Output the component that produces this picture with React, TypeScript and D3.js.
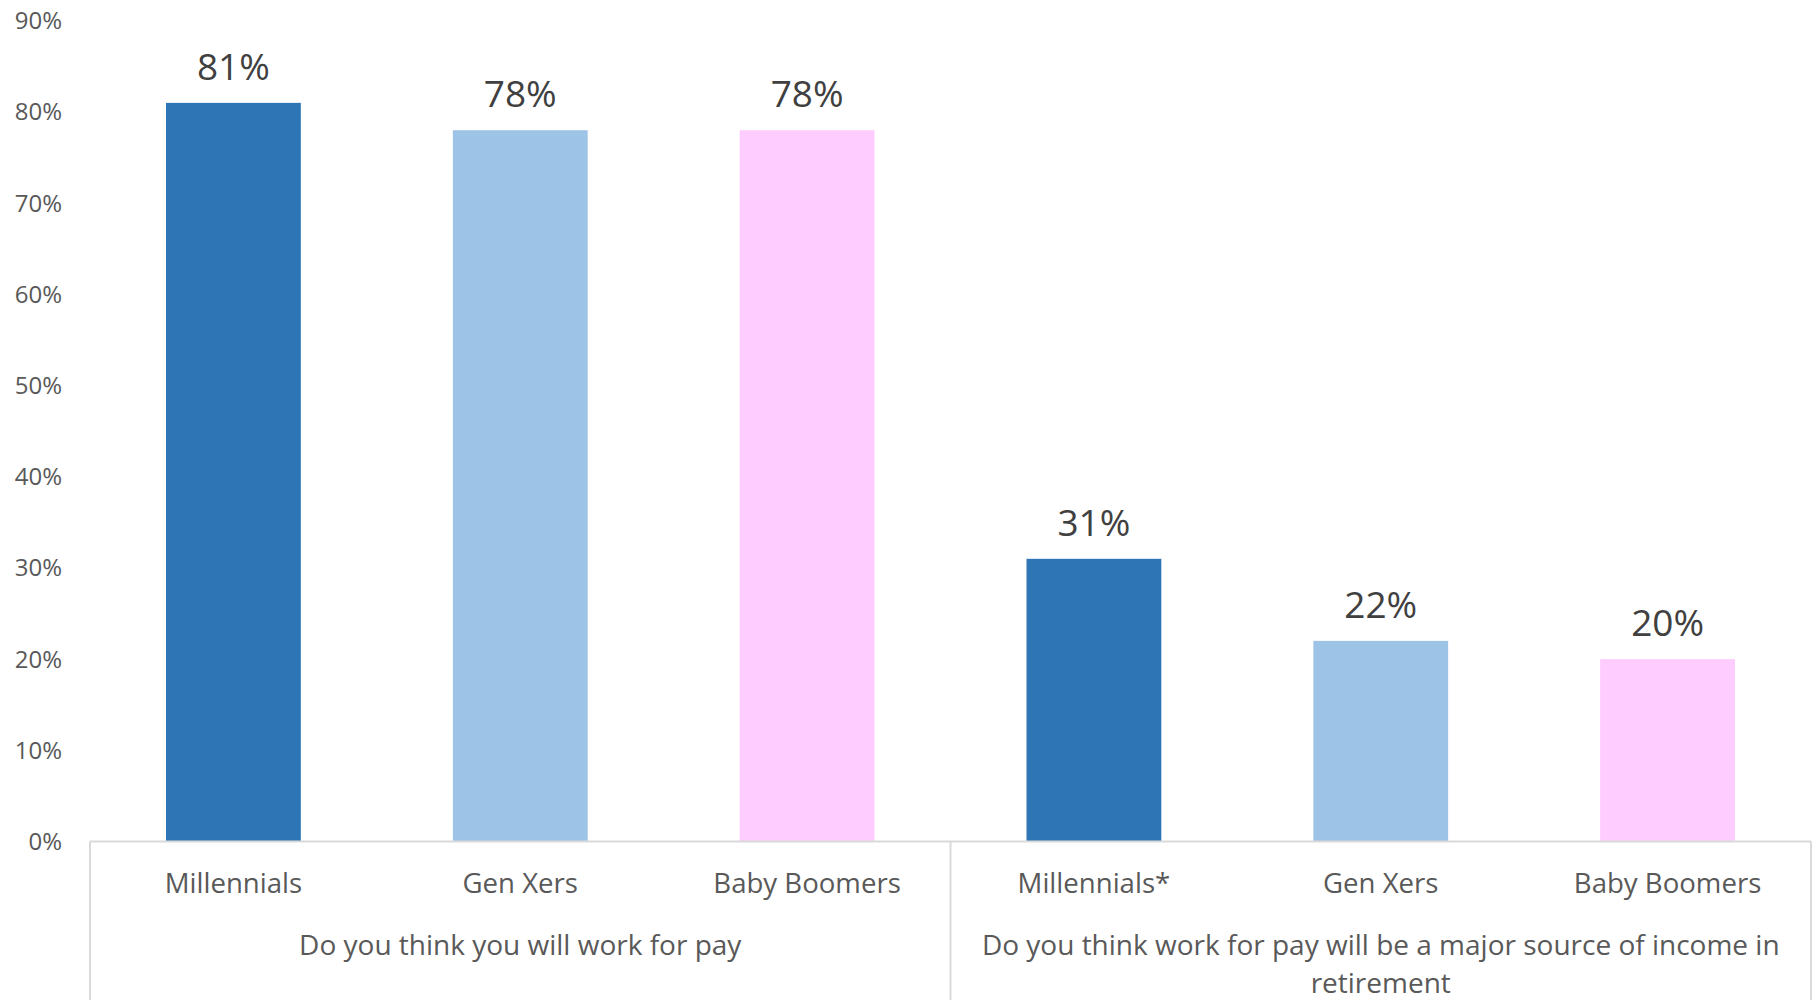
import React from "react";
import * as d3 from "d3";

const categories = ["Millennials", "Gen Xers", "Baby Boomers", "Millennials*", "Gen Xers", "Baby Boomers"];
const values = [81, 78, 78, 31, 22, 20];
const colors = ["#2E75B6", "#9DC3E6", "#FFCCFF", "#2E75B6", "#9DC3E6", "#FFCCFF"];
const groups = [
  { lines: ["Do you think you will work for pay"], start: 0, end: 3 },
  { lines: ["Do you think work for pay will be a major source of income in", "retirement"], start: 3, end: 6 },
];
const yTicks = [0, 10, 20, 30, 40, 50, 60, 70, 80, 90];

const W = 1818;
const H = 1000;
const left = 90;
const right = 1811;
const top = 20.8;
const bottom = 841.5;
const FONT = "'Open Sans', 'Noto Sans', sans-serif";

export default function App() {
  const idx = categories.map((_, i) => String(i));
  const x = d3.scaleBand<string>().domain(idx).range([left, right]).paddingInner(0.53).paddingOuter(0.265);
  const y = d3.scaleLinear().domain([0, 90]).range([bottom, top]);
  const step = (right - left) / categories.length;

  return (
    <svg width={W} height={H} style={{ position: "absolute", left: 0, top: 0 }} fontFamily={FONT}>
      <rect x={0} y={0} width={W} height={H} fill="#fff" />
      {yTicks.map((t) => (
        <text key={t} x={62} y={y(t)} dy="0.35em" textAnchor="end" fontSize={24} fill="#595959">
          {t}%
        </text>
      ))}
      {values.map((v, i) => (
        <g key={i}>
          <rect x={x(String(i))} y={y(v)} width={x.bandwidth()} height={bottom - y(v)} fill={colors[i]} />
          <text
            x={(x(String(i)) as number) + x.bandwidth() / 2}
            y={y(v) - 23}
            textAnchor="middle"
            fontSize={37}
            fill="#404040"
          >
            {v}%
          </text>
          <text
            x={(x(String(i)) as number) + x.bandwidth() / 2}
            y={893}
            textAnchor="middle"
            fontSize={27.6}
            fill="#595959"
          >
            {categories[i]}
          </text>
        </g>
      ))}
      <line x1={left} x2={right} y1={bottom} y2={bottom} stroke="#D9D9D9" strokeWidth={2} />
      {[0, 3, 6].map((k) => (
        <line key={k} x1={left + step * k} x2={left + step * k} y1={bottom} y2={H} stroke="#D9D9D9" strokeWidth={2} />
      ))}
      {groups.map((g, gi) => (
        <text key={gi} x={left + step * (g.start + g.end) / 2} y={955} textAnchor="middle" fontSize={28} fill="#595959">
          {g.lines.map((l, li) => (
            <tspan key={li} x={left + step * (g.start + g.end) / 2} dy={li === 0 ? 0 : 38}>
              {l}
            </tspan>
          ))}
        </text>
      ))}
    </svg>
  );
}
